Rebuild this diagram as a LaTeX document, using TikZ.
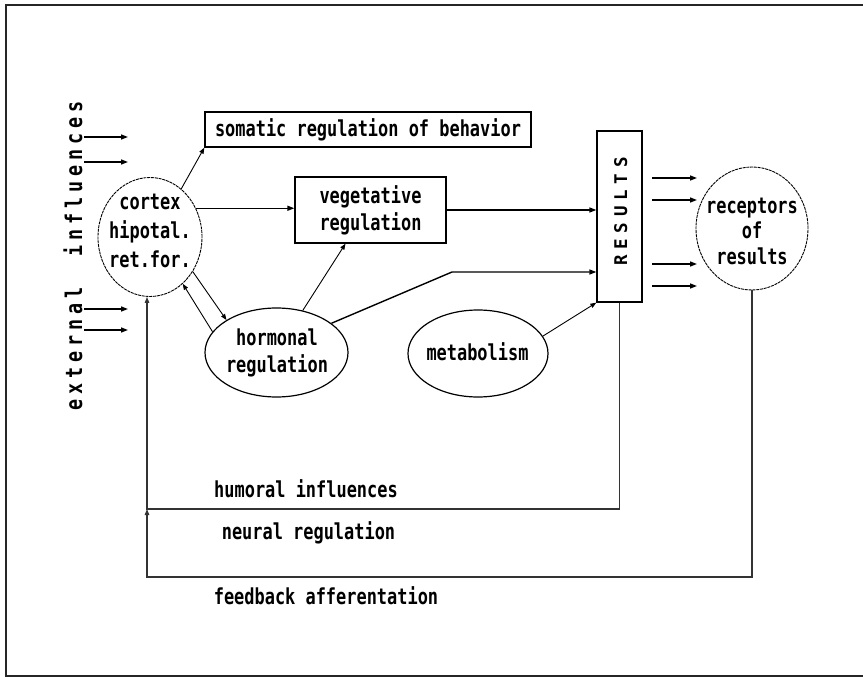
\documentclass[tikz,border=0pt]{standalone}
\usepackage{fontspec}
\usetikzlibrary{shapes.geometric,arrows.meta}
\newfontfamily\labfont[FakeStretch=0.77]{DejaVu Sans Mono}
\newfontfamily\extfont[FakeStretch=0.8,LetterSpace=21]{DejaVu Sans Mono}
\newfontfamily\resfont[LetterSpace=33]{DejaVu Sans Mono}
\begin{document}
\begin{tikzpicture}[x=1pt,y=-1pt,
  lab/.style={font={\labfont\bfseries\fontsize{22}{27}\selectfont}, align=center, inner sep=0pt},
  ell/.style={draw, ellipse, inner sep=0pt, line width=1.2pt},
  circ/.style={draw, ellipse, inner sep=0pt, line width=0.9pt, dash pattern=on 3pt off 0.8pt},
  box/.style={draw, rectangle, line width=1.3pt},
  arr/.style={-{Triangle[length=7pt,width=5pt]}, line width=1.4pt},
  tarr/.style={-{Triangle[length=6pt,width=4.5pt]}, line width=0.9pt},
  fline/.style={line width=1.1pt, black!80},
  farr/.style={fline, -{Triangle[length=6pt,width=4.5pt]}}
]
\useasboundingbox (0,0) rectangle (863,677);
% frame
\draw[line width=1.8pt, black!85] (863,5) -- (6,5) -- (6,676) -- (863,676);

% external influences
\node[rotate=90, anchor=base, inner sep=0pt,
      font={\extfont\bfseries\fontsize{23}{28}\selectfont}] (ext) at (82,256) {external\ \ influences};

% nodes
\node[circ, minimum width=104pt, minimum height=119pt] (cortex) at (150,237) {};
\node[lab, font={\labfont\bfseries\fontsize{22}{29}\selectfont}] (cortextxt) at (150,231) {cortex\\hipotal.\\ret.for.};

\node[box, minimum width=326pt, minimum height=35pt, lab] (soma) at (368,129.5) {somatic regulation of behavior};
\node[box, minimum width=151pt, minimum height=66pt, lab] (veg) at (370.5,210) {vegetative\\regulation};

\node[box, minimum width=45pt, minimum height=171pt] (res) at (619.5,216.5) {};
\node[rotate=90, anchor=base, inner sep=0pt,
      font={\resfont\bfseries\fontsize{17.5}{20}\selectfont}] (restxt) at (627,211.5) {RESULTS};

\node[ell, minimum width=143pt, minimum height=89pt] (horm) at (276.5,352.5) {};
\node[lab] (hormtxt) at (277,352.5) {hormonal\\regulation};

\node[ell, minimum width=140pt, minimum height=87pt] (meta) at (478,353.5) {};
\node[lab] (metatxt) at (477.5,351.7) {metabolism};

\node[circ, minimum width=112pt, minimum height=123pt] (rec) at (752,228.5) {};
\node[lab, font={\labfont\bfseries\fontsize{22}{25.5}\selectfont}] (rectxt) at (752,231) {receptors\\of\\results};

% connectors
\draw[tarr] (cortex.57) -- (soma.south west);
\draw[arr] (cortex.32) -- (cortex.32 -| veg.west);
\draw[arr] (veg.east) -- (veg.east -| res.west);
\coordinate (hbend) at (452,272);
\draw[arr] (horm.28) -- (hbend) -- (hbend -| res.west);
\draw[tarr] (horm.58) -- ([xshift=-25pt]veg.south);
\draw[tarr] (cortex.-39.5) -- (horm.147.7);
\draw[tarr] (horm.162) -- (cortex.-55.5);
\draw[tarr] (meta.15) -- (res.south west);

% feedback loops
\coordinate (hj) at (147,509);
\coordinate (fj) at (147,577);
\draw[farr] (res.south) |- (hj) -- ([xshift=-3pt]cortex.south);
\draw[farr] (rec.south) |- (fj) -- (hj);

% input arrows
\foreach \y/\n in {137/a,162/b,309/c,330/d}{
  \coordinate (in\n s) at (84,\y);
  \coordinate (in\n e) at (128,\y);
  \draw[arr] (in\n s) -- (in\n e);
}
% output arrows
\foreach \y/\n in {178/a,200/b,264/c,286/d}{
  \coordinate (out\n s) at (652,\y);
  \coordinate (out\n e) at (697,\y);
  \draw[arr] (out\n s) -- (out\n e);
}

% labels
\node[lab, anchor=base] (humoral) at (306,497) {humoral influences};
\node[lab, anchor=base] (neural) at (308.5,539) {neural regulation};
\node[lab, anchor=base] (feedback) at (326,604) {feedback afferentation};
\end{tikzpicture}
\end{document}
